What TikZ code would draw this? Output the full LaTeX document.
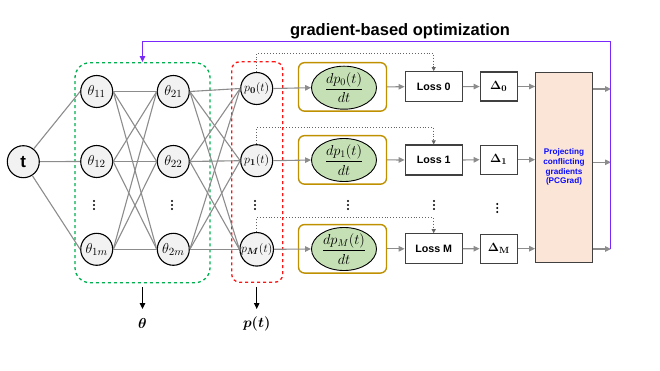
\documentclass[tikz,border=0pt]{standalone}
\usepackage{amsmath,bm}
\usepackage[no-math]{fontspec}
\setmainfont{Liberation Sans}
\usetikzlibrary{arrows.meta,shapes.geometric}
\definecolor{linegray}{RGB}{140,140,140}
\definecolor{circfill}{RGB}{242,242,242}
\definecolor{gboxc}{RGB}{0,176,80}
\definecolor{rboxc}{RGB}{255,20,20}
\definecolor{goldc}{RGB}{191,144,0}
\definecolor{ellfill}{RGB}{197,224,180}
\definecolor{boxborder}{RGB}{64,64,64}
\definecolor{peach}{RGB}{251,229,214}
\definecolor{purplec}{RGB}{120,40,250}
\definecolor{pcgtext}{RGB}{10,10,255}
\definecolor{dotgray}{RGB}{100,100,100}
\tikzset{
  neuron/.style={circle,draw=black,line width=1.1pt,fill=circfill,minimum size=32pt,inner sep=0pt},
  conn/.style={draw=linegray,line width=1.1pt},
  garrow/.style={draw=linegray,line width=1.1pt,-{Triangle[length=6pt,width=5.5pt]}},
  dotarrow/.style={draw=dotgray,line width=0.9pt,dotted,-{Triangle[length=4pt,width=4pt]}},
  goldbox/.style={draw=goldc,line width=1.4pt,rounded corners=6pt,minimum width=88pt,minimum height=48.5pt},
  derivell/.style={ellipse,draw=black,line width=0.9pt,fill=ellfill,minimum width=65pt,minimum height=42pt,inner sep=0pt},
  lossbox/.style={draw=boxborder,line width=1.2pt,fill=white,minimum width=57pt,minimum height=30pt,inner sep=0pt,font=\fontsize{10.7}{12}\selectfont\bfseries},
  deltabox/.style={draw=boxborder,line width=1.2pt,fill=white,minimum width=37pt,minimum height=29pt,inner sep=0pt},
  vdotsbox/.style={inner sep=0pt,minimum width=3pt,minimum height=11pt,
    path picture={\fill[black] (path picture bounding box.center) circle[radius=1.15pt]
      ++(0,4pt) circle[radius=1.15pt] ++(0,-8pt) circle[radius=1.15pt];}},
  thlabel/.style={font=\fontsize{15}{17}\selectfont},
  plabel/.style={font=\fontsize{13}{15}\selectfont},
  blkarrow/.style={draw=black,line width=1.1pt,-{Triangle[length=6pt,width=5.5pt]}},
}
\begin{document}
\begin{tikzpicture}[x=1pt,y=-1pt]
\useasboundingbox (0,0) rectangle (660,371);

% title
\node[anchor=base,inner sep=0pt,font=\fontsize{16.5}{18}\selectfont\bfseries] (title) at (400,36) {gradient-based optimization};

% dashed groups
\node[draw=gboxc,dashed,line width=1.3pt,rounded corners=15pt,minimum width=135pt,minimum height=220pt,inner sep=0pt] (gbox) at (142.5,172.7) {};
\node[draw=rboxc,dashed,line width=1.3pt,rounded corners=8pt,minimum width=51pt,minimum height=220.5pt,inner sep=0pt] (rbox) at (257.2,172) {};

% neurons
\node[neuron,font=\fontsize{17}{18}\selectfont\bfseries] (t) at (23.3,161.7) {t};
\node[neuron,thlabel] (th11) at (96.7,91.5) {$\theta_{11}$};
\node[neuron,thlabel] (th12) at (96.7,161.5) {$\theta_{12}$};
\node[neuron,thlabel] (th1m) at (96.7,249.3) {$\theta_{1m}$};
\node[neuron,thlabel] (th21) at (173.3,91.5) {$\theta_{21}$};
\node[neuron,thlabel] (th22) at (173.3,161.5) {$\theta_{22}$};
\node[neuron,thlabel] (th2m) at (173.3,249.3) {$\theta_{2m}$};
\node[neuron,plabel] (p0) at (256.7,88.5) {$p_{\mathbf 0}(t)$};
\node[neuron,plabel] (p1) at (256.7,160.7) {$p_{\mathbf 1}(t)$};
\node[neuron,plabel] (pM) at (256.7,249.3) {$p_{\boldsymbol M}(t)$};

% vertical dots
\node[vdotsbox] (dA) at (94,205) {};
\node[vdotsbox] (dB) at (172,205) {};
\node[vdotsbox] (dC) at (255,205) {};
\node[vdotsbox] (dD) at (348,205) {};
\node[vdotsbox] (dE) at (434,205) {};
\node[vdotsbox] (dF) at (497.3,208) {};

% network connections
\foreach \a in {th11,th12,th1m}{ \draw[conn] (t) -- (\a.west); }
\foreach \a in {th11,th12,th1m}{ \foreach \b in {th21,th22,th2m}{ \draw[conn] (\a.east) -- (\b.west); } }
\foreach \a in {th21,th22,th2m}{ \foreach \b in {p0,p1,pM}{ \draw[conn] (\a.east) -- (\b.west); } }

% derivative boxes
\node[goldbox] (g0) at (342.5,86.9) {};
\node[goldbox] (g1) at (342.5,159.9) {};
\node[goldbox] (gM) at (342.5,248.8) {};
\node[derivell,font=\fontsize{14.5}{16}\selectfont] (e0) at (344,87.7) {$\dfrac{dp_0(t)}{dt}$};
\node[derivell,font=\fontsize{14.5}{16}\selectfont] (e1) at (344,160) {$\dfrac{dp_1(t)}{dt}$};
\node[derivell,font=\fontsize{14.5}{16}\selectfont] (eM) at (344,249) {$\dfrac{dp_M(t)}{dt}$};

% loss boxes
\node[lossbox] (l0) at (433.7,86.7) {Loss 0};
\node[lossbox] (l1) at (433.7,160) {Loss 1};
\node[lossbox] (lM) at (433.7,248.8) {Loss M};

% delta boxes
\node[deltabox,font=\fontsize{13}{15}\selectfont] (d0) at (498.7,86.5) {$\mathbf{\Delta_{0}}$};
\node[deltabox,font=\fontsize{13}{15}\selectfont] (d1) at (498.7,159.7) {$\mathbf{\Delta_{1}}$};
\node[deltabox,font=\fontsize{13}{15}\selectfont] (dM) at (498.7,248.7) {$\mathbf{\Delta_{M}}$};

% PCGrad
\node[draw=boxborder,line width=1.2pt,fill=peach,minimum width=56.6pt,minimum height=190pt,inner sep=0pt,align=center,text=pcgtext,font=\fontsize{8.2}{9.7}\selectfont\bfseries] (pcg) at (564,167.3) {Projecting\\conflicting\\gradients\\(PCGrad)};

% arrows p -> ellipse
\draw[garrow] (p0.east) -- (e0.west);
\draw[garrow] (p1.east) -- (e1.west);
\draw[garrow] (pM.east) -- (eM.west);
% gold box -> loss
\draw[garrow] (g0.east) -- (l0.west);
\draw[garrow] (g1.east) -- (l1.west);
\draw[garrow] (gM.east) -- (lM.west);
% loss -> delta
\draw[garrow] (l0.east) -- (d0.west);
\draw[garrow] (l1.east) -- (d1.west);
\draw[garrow] (lM.east) -- (dM.west);
% delta -> pcgrad
\draw[garrow] (d0.east) -- (d0.east -| pcg.west);
\draw[garrow] (d1.east) -- (d1.east -| pcg.west);
\draw[garrow] (dM.east) -- (dM.east -| pcg.west);
% outputs
\coordinate (o0) at (611,89);
\coordinate (o1) at (611,162.3);
\coordinate (oM) at (611,249);
\draw[garrow] (o0 -| pcg.east) -- (o0);
\draw[garrow] (o1 -| pcg.east) -- (o1);
\draw[garrow] (oM -| pcg.east) -- (oM);

% dotted skip connections
\coordinate (k0) at (433.7,53.3);
\coordinate (k1) at (433.7,127.3);
\coordinate (kM) at (433.7,217.7);
\draw[dotarrow] (p0.north) |- (k0) -- (l0.north);
\draw[dotarrow] (p1.north) |- (k1) -- (l1.north);
\draw[dotarrow] (pM.north) |- (kM) -- (lM.north);

% feedback loop
\coordinate (fb1) at (610.7,249);
\coordinate (fb2) at (610.7,41.7);
\draw[draw=purplec,line width=1.4pt,-{Triangle[length=6pt,width=5.5pt]}] (fb1) -- (fb2) -- (fb2 -| gbox.north) -- (gbox.north);

% bottom labels
\coordinate (tha) at (142.5,309);
\coordinate (pa) at (256.7,309);
\draw[blkarrow,shorten <=4pt] (gbox.south) -- (tha);
\draw[blkarrow,shorten <=4pt] (rbox.south -| pa) -- (pa);
\node[font=\fontsize{14}{16}\selectfont] (thetalab) at (142.5,323.5) {$\boldsymbol{\theta}$};
\node[font=\fontsize{14}{16}\selectfont] (ptlab) at (256.7,323.5) {$\boldsymbol{p(t)}$};
\end{tikzpicture}
\end{document}
